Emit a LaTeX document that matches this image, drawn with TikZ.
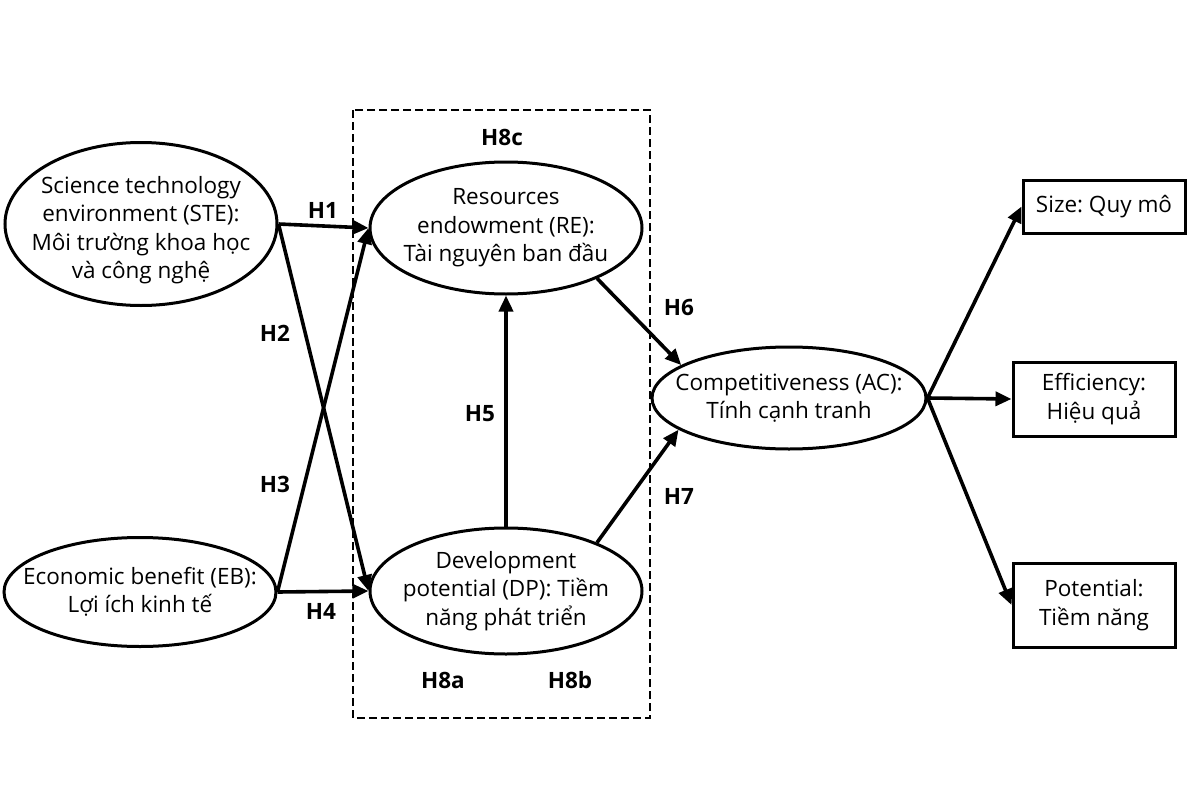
\documentclass[tikz,border=0pt]{standalone}
\usepackage{fontspec}
\setmainfont{Open Sans}
\frenchspacing
\usetikzlibrary{shapes.geometric,arrows.meta}
\begin{document}
\begin{tikzpicture}[x=1pt,y=-1pt,
  every node/.style={font=\fontsize{22.5}{28.5}\selectfont},
  ell/.style={draw,line width=3pt,ellipse,inner sep=0pt},
  txt/.style={align=center,inner sep=0pt},
  bx/.style={draw,line width=3pt,rectangle,inner sep=0pt,align=center},
  hyp/.style={font=\fontsize{22.5}{26}\selectfont\bfseries},
  arr/.style={line width=3.6pt,-{Triangle[length=16pt,width=14pt]}}]
\useasboundingbox (0,0) rectangle (1200,800);
\draw[line width=2.2pt,dash pattern=on 8pt off 4pt] (353,110) rectangle (650,718);
\node[ell,minimum width=272pt,minimum height=163pt] (ste) at (141,224) {};
\node[txt] (stet) at (141,230) {Science technology\\environment (STE):\\Môi trường khoa học\\và công nghệ};
\node[ell,minimum width=272pt,minimum height=109pt] (eb) at (140,592) {};
\node[txt] (ebt) at (eb.center) {Economic benefit (EB):\\Lợi ích kinh tế};
\node[ell,minimum width=272pt,minimum height=132pt] (re) at (506,228) {};
\node[txt] (ret) at (re.center) {Resources\\endowment (RE):\\Tài nguyên ban đầu};
\node[ell,minimum width=272pt,minimum height=126pt] (dp) at (506,591) {};
\node[txt] (dpt) at (dp.center) {Development\\potential (DP): Tiềm\\năng phát triển};
\node[ell,minimum width=274pt,minimum height=102pt] (ac) at (789,398) {};
\node[txt] (act) at (ac.center) {Competitiveness (AC):\\Tính cạnh tranh};
\node[bx,minimum width=162pt,minimum height=53pt] (size) at (1104,206.5) {Size: Quy mô};
\node[bx,minimum width=162pt,minimum height=74pt] (eff) at (1094,399) {Efficiency:\\Hiệu quả};
\node[bx,minimum width=162pt,minimum height=84pt] (pot) at (1094,605) {Potential:\\Tiềm năng};
\draw[arr] (ste.east) -- (re.west);
\draw[arr] (ste.east) -- (dp.west);
\draw[arr] (eb.east) -- (re.west);
\draw[arr] (eb.east) -- (dp.west);
\draw[arr] (dp.north) -- (re.south);
\draw[arr] (re.-29) -- (ac.163);
\draw[arr] (dp.28) -- (ac.-164);
\draw[arr] (ac.east) -- (size.west);
\draw[arr] (ac.east) -- (eff.west);
\draw[arr] (ac.east) -- (pot.west);
\node[hyp] (h1) at (323,210) {H1};
\node[hyp] (h2) at (275,333) {H2};
\node[hyp] (h3) at (275,484) {H3};
\node[hyp] (h4) at (321,611) {H4};
\node[hyp] (h5) at (480,414) {H5};
\node[hyp] (h6) at (679,307) {H6};
\node[hyp] (h7) at (679,496) {H7};
\node[hyp] (h8c) at (502,137) {H8c};
\node[hyp] (h8a) at (443,680) {H8a};
\node[hyp] (h8b) at (570,680) {H8b};
\end{tikzpicture}
\end{document}
